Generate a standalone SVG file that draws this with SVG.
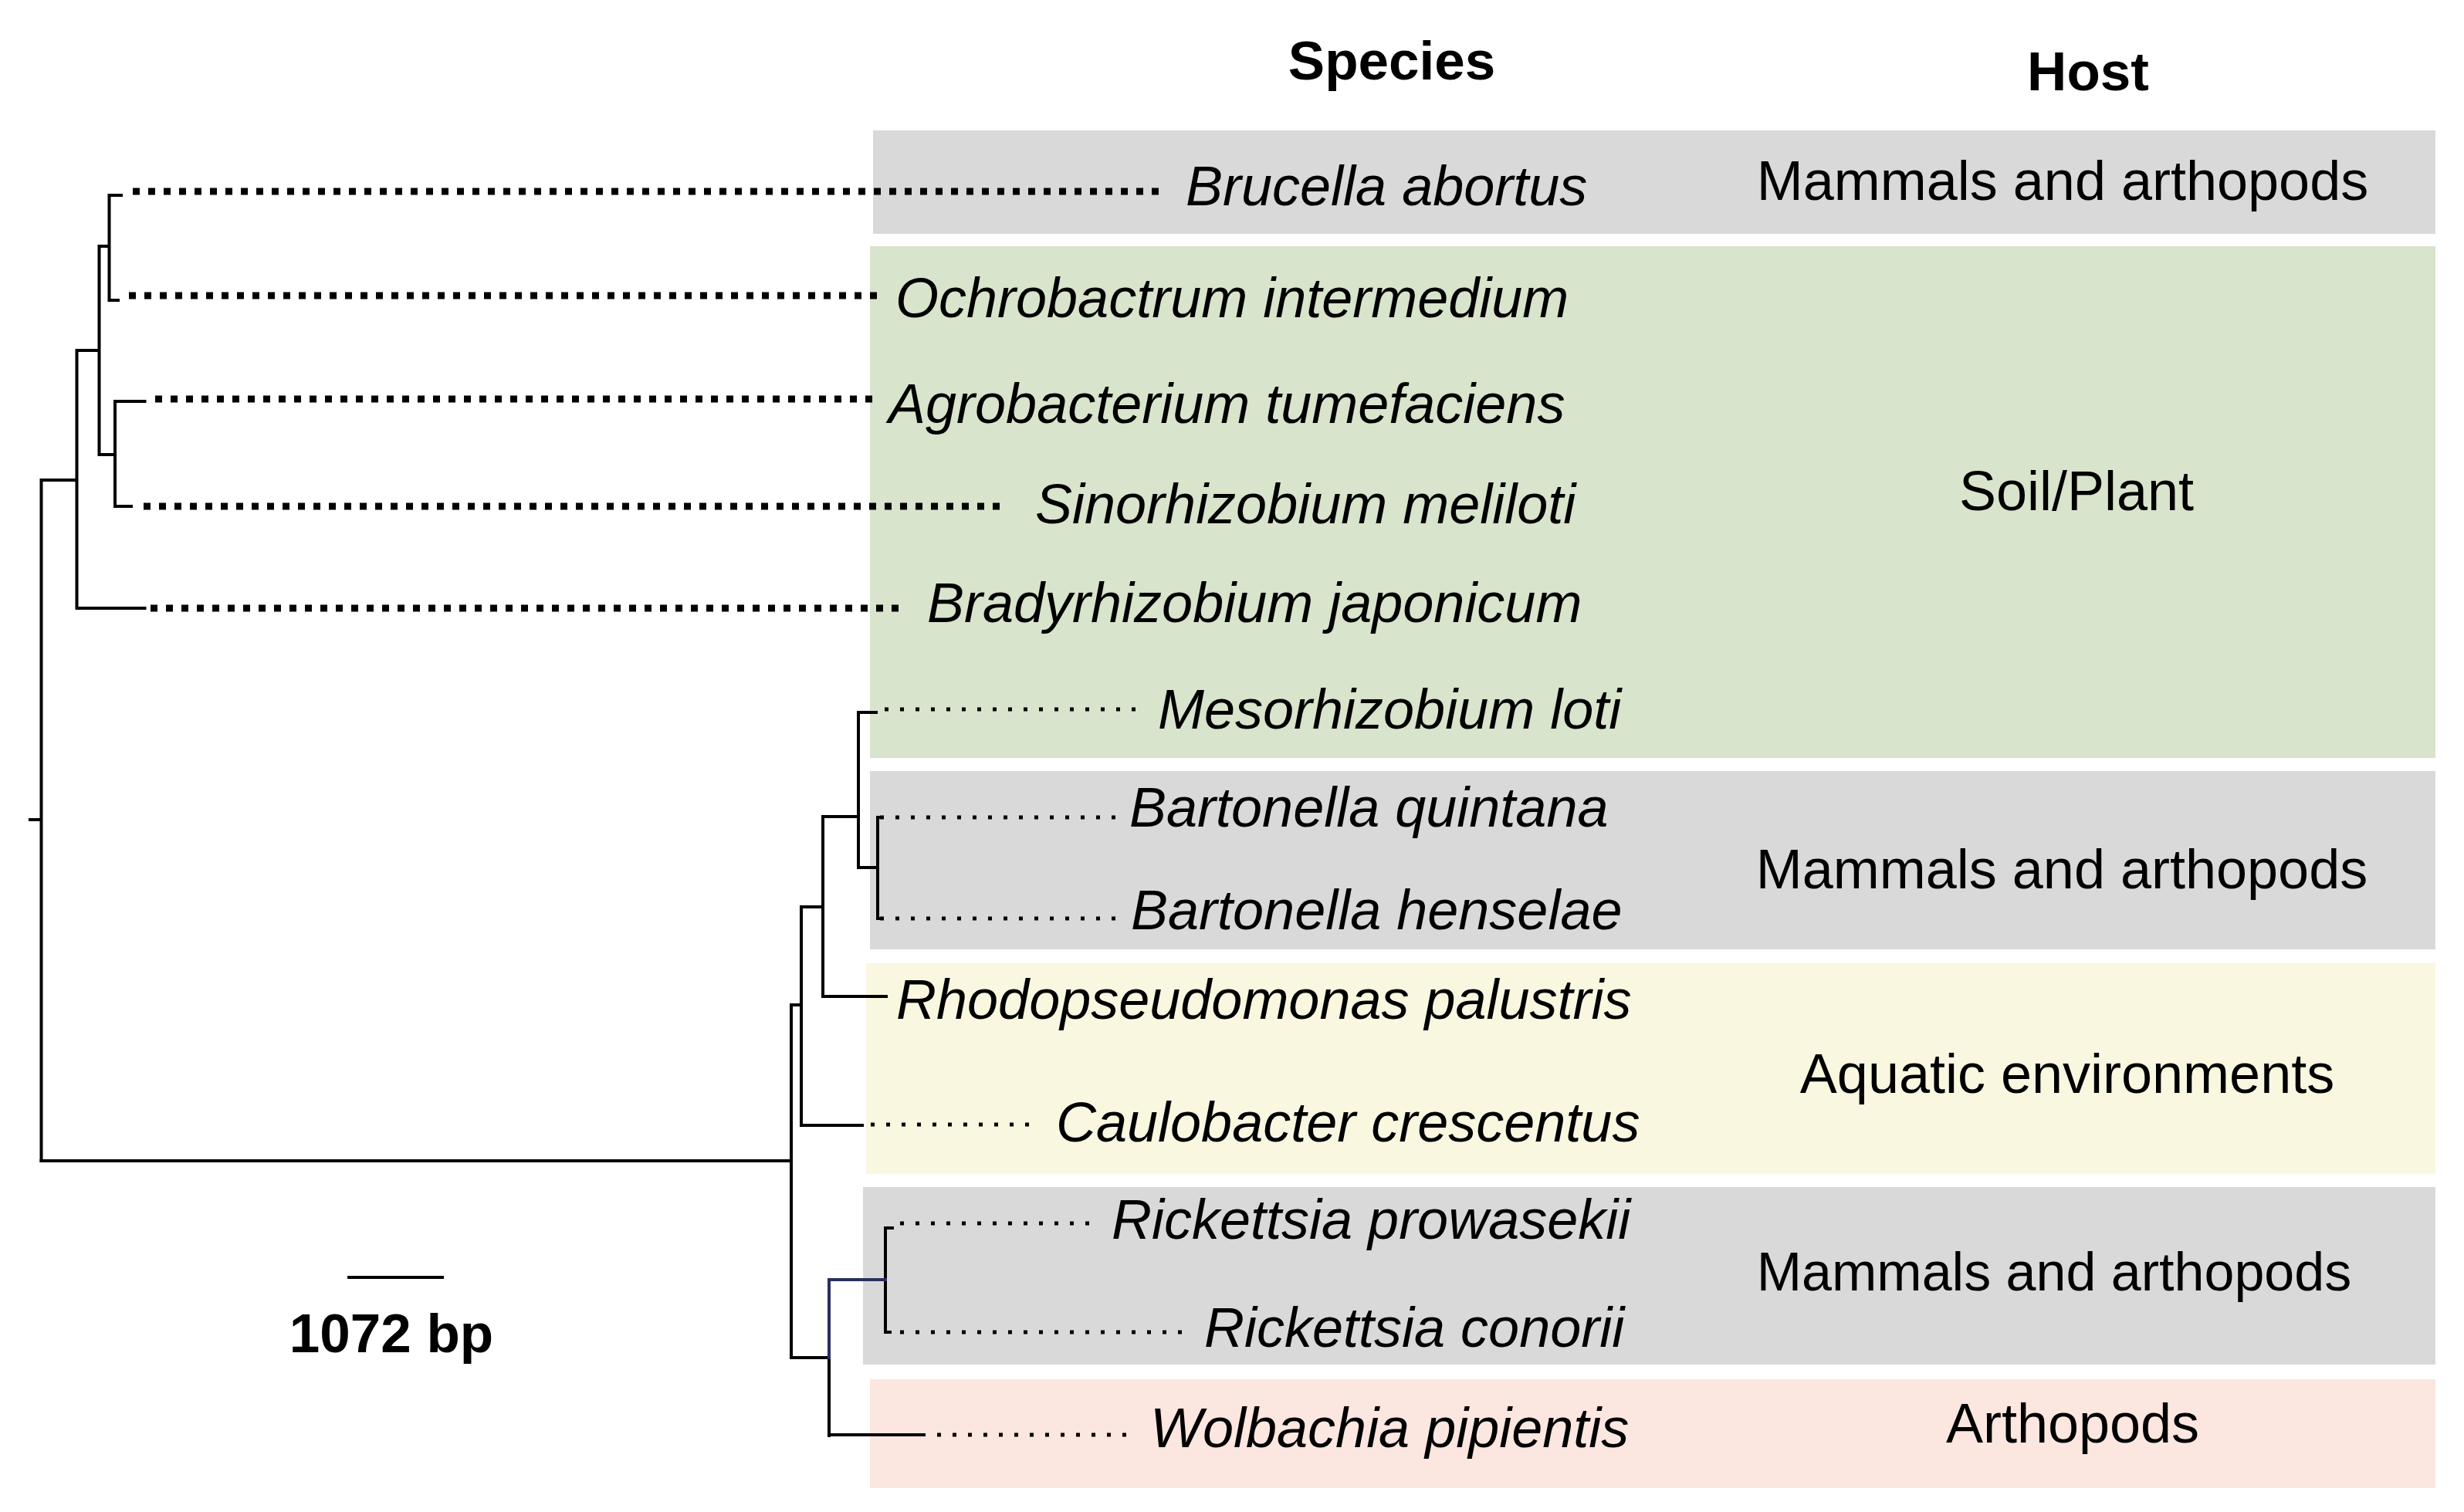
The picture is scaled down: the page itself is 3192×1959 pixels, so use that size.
<svg xmlns="http://www.w3.org/2000/svg" width="3192" height="1959" viewBox="0 0 3192 1959">
<style>
.bg{stroke:none}
.gray{fill:#d9d9d9}
.green{fill:#d8e4cb}
.yellow{fill:#f9f7e0}
.pink{fill:#fbe6e0}
.sp{font-family:"Liberation Sans",Arial,sans-serif;font-style:italic;font-size:72px;fill:#000}
.host{font-family:"Liberation Sans",Arial,sans-serif;font-size:72px;fill:#000;text-anchor:middle}
.hdr{font-family:"Liberation Sans",Arial,sans-serif;font-weight:bold;font-size:71px;fill:#000;text-anchor:middle}
.br{stroke:#000;stroke-width:4;fill:none;stroke-linecap:square}
.blue{stroke:#2a2e5e}
.dotT{stroke:#000;stroke-width:9;stroke-dasharray:9 11;fill:none}
.dotS{stroke:#000;stroke-width:5;stroke-dasharray:5 15;fill:none}
</style>
<rect width="3192" height="1959" fill="#fff"/>
<g id="bands">
<rect class="bg gray" x="1131" y="169" width="2024" height="134"/>
<rect class="bg green" x="1127" y="319" width="2028" height="663"/>
<rect class="bg gray" x="1127" y="999" width="2028" height="231"/>
<rect class="bg yellow" x="1122" y="1248" width="2033" height="273"/>
<rect class="bg gray" x="1118" y="1538" width="2037" height="230"/>
<rect class="bg pink" x="1127" y="1787" width="2028" height="141"/>
</g>
<g id="headers">
<text class="hdr" x="1803" y="103">Species</text>
<text class="hdr" x="2705" y="117">Host</text>
</g>
<g id="connectors">
<path class="br" d="M39 1062H53.5 M53.5 622V1504 M53.5 622H99.5 M99.5 454V788 M99.5 788H187.5 M99.5 454H128.5 M128.5 319V589 M128.5 319H141.5 M141.5 253V389 M141.5 253H157 M141.5 389H153 M128.5 589H149 M149 520V656 M149 520H187.5 M149 656H170"/>
<path class="br" d="M53.5 1504H1025 M1025 1302V1759 M1025 1302H1038 M1038 1175V1458 M1038 1458H1117 M1038 1175H1066 M1066 1058V1291 M1066 1291H1148 M1066 1058H1112 M1112 923V1124 M1112 923H1135 M1112 1124H1137 M1137 1059V1190 M1137 1059H1142 M1137 1190H1142 M1025 1759H1074 M1074 1759V1860 M1074 1859H1197 M1147 1591V1726 M1147 1591H1156 M1147 1726H1153"/>
<path class="br blue" d="M1074 1759V1658H1147"/>
<path class="dotT" d="M172 248H1508 M167 383H1145 M201 517H1137 M186 656H1304 M195 788H1172"/>
<path class="dotS" d="M1146 919H1474 M1140 1059H1448 M1140 1190H1448 M1128 1457H1340 M1166 1585H1416 M1166 1726H1536 M1214 1859H1462"/>
<path class="br" d="M452 1655H573"/>
</g>
<g id="species">
<text class="sp" x="1536" y="266">Brucella abortus</text>
<text class="sp" x="1160" y="411">Ochrobactrum intermedium</text>
<text class="sp" x="1151" y="548">Agrobacterium tumefaciens</text>
<text class="sp" x="1341" y="678">Sinorhizobium meliloti</text>
<text class="sp" x="1201" y="806">Bradyrhizobium japonicum</text>
<text class="sp" x="1500" y="944">Mesorhizobium loti</text>
<text class="sp" x="1463" y="1071">Bartonella quintana</text>
<text class="sp" x="1465" y="1204">Bartonella henselae</text>
<text class="sp" x="1161" y="1320">Rhodopseudomonas palustris</text>
<text class="sp" x="1368" y="1479">Caulobacter crescentus</text>
<text class="sp" x="1440" y="1605">Rickettsia prowasekii</text>
<text class="sp" x="1560" y="1745">Rickettsia conorii</text>
<text class="sp" x="1490" y="1875">Wolbachia pipientis</text>
</g>
<g id="hosts">
<text class="host" x="2672" y="259">Mammals and arthopods</text>
<text class="host" x="2690" y="661">Soil/Plant</text>
<text class="host" x="2671" y="1151">Mammals and arthopods</text>
<text class="host" x="2678" y="1416">Aquatic environments</text>
<text class="host" x="2661" y="1672" style="font-size:70px">Mammals and arthopods</text>
<text class="host" x="2685" y="1869">Arthopods</text>
</g>
<g id="scale">
<text class="hdr" x="507" y="1752">1072 bp</text>
</g>
</svg>
